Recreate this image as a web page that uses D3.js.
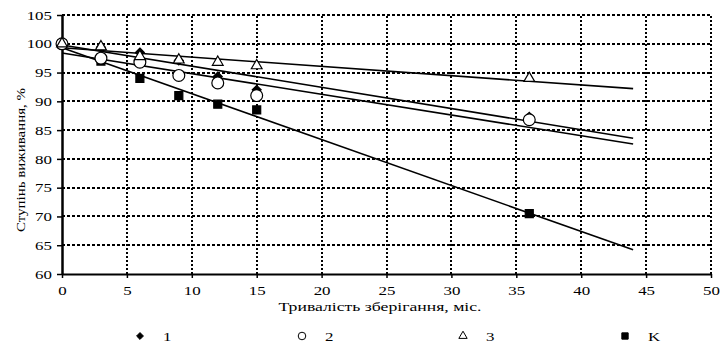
<!DOCTYPE html>
<html><head><meta charset="utf-8">
<script src="https://cdn.jsdelivr.net/npm/d3@7"></script>
<style>
body{margin:0;background:#fff;}
svg{display:block;}
</style></head>
<body><svg id="c" width="723" height="349" font-family="Liberation Serif"></svg>
<script>
const months = [0, 3, 6, 9, 12, 15, 36];
const series1 = [100, 99.4, 98.5, 97.1, 94.3, 92.0, 87.3];
const series2 = [100, 97.5, 96.8, 94.5, 93.2, 91.0, 86.8];
const series3 = [100, 99.5, 97.8, 97.2, 96.8, 96.2, 94.0];
const seriesK = [100, 97.0, 94.0, 91.0, 89.5, 88.5, 70.5];
const trendX = [0, 44];
const trend1 = [99.8, 83.6];
const trend2 = [98.4, 82.6];
const trend3 = [99.3, 92.2];
const trendK = [99.3, 64.2];
const xTicks = [0,5,10,15,20,25,30,35,40,45,50];
const yTicks = [60,65,70,75,80,85,90,95,100,105];
const legendLabels = ["1","2","3","K"];
const xTitle = "Тривалість зберігання, міс.";
const yTitle = "Ступінь виживання, %";
const FONT = "Liberation Serif";
const STRETCH = 1.3;

const svg = d3.select("#c");
const x = d3.scaleLinear().domain([0,50]).range([62,711]);
const y = d3.scaleLinear().domain([60,105]).range([274,15]);

function stretch(sel, k){
  sel.each(function(){
    const w = this.getComputedTextLength();
    d3.select(this).attr("textLength", w*k).attr("lengthAdjust","spacingAndGlyphs");
  });
}

// grid
const g = svg.append("g").attr("shape-rendering","crispEdges");
g.selectAll(".hg").data(yTicks.filter(d=>d>60)).join("line")
  .attr("x1",x(0)).attr("x2",x(50)).attr("y1",d=>Math.round(y(d))).attr("y2",d=>Math.round(y(d)))
  .attr("stroke","#000").attr("stroke-width",2).attr("stroke-dasharray","3,2");
g.selectAll(".vg").data(xTicks.filter(d=>d>0)).join("line")
  .attr("y1",y(60)).attr("y2",y(105)).attr("x1",d=>Math.round(x(d))).attr("x2",d=>Math.round(x(d)))
  .attr("stroke","#000").attr("stroke-width",2).attr("stroke-dasharray","2,2");

// axes
const ax = svg.append("g").attr("transform",`translate(0,${y(60)})`)
  .call(d3.axisBottom(x).tickValues(xTicks).tickSize(4).tickSizeOuter(0).tickPadding(8));
ax.attr("font-family",FONT).attr("font-size",13);
ax.select(".domain").attr("stroke-width",2);
ax.selectAll(".tick line").attr("stroke-width",1.5);
stretch(ax.selectAll("text"), STRETCH);

const ay = svg.append("g").attr("transform",`translate(${x(0)},0)`)
  .call(d3.axisLeft(y).tickValues(yTicks).tickSize(5).tickSizeOuter(0).tickPadding(5));
ay.attr("font-family",FONT).attr("font-size",13);
ay.select(".domain").attr("stroke-width",2.5);
ay.selectAll(".tick line").attr("stroke-width",1.5);
stretch(ay.selectAll("text"), STRETCH);

// titles
svg.append("text").attr("x",380).attr("y",311).attr("text-anchor","middle")
  .attr("font-family",FONT).attr("font-size",13)
  .attr("textLength",203).attr("lengthAdjust","spacingAndGlyphs").text(xTitle);
svg.append("text").attr("transform","translate(25,160) rotate(-90)")
  .attr("text-anchor","middle").attr("font-family",FONT).attr("font-size",13)
  .attr("textLength",144).attr("lengthAdjust","spacingAndGlyphs").text(yTitle);

// trend lines
const trends = [trend1,trend2,trend3,trendK];
svg.selectAll(".tr").data(trends).join("line")
  .attr("x1",x(trendX[0])).attr("x2",x(trendX[1]))
  .attr("y1",d=>y(d[0])).attr("y2",d=>y(d[1]))
  .attr("stroke","#000").attr("stroke-width",1.6);

// markers
const sym = {
  diamond: d3.symbol().type(d3.symbolDiamond2).size(50),
  circle: d3.symbol().type(d3.symbolCircle).size(110),
  triangle: d3.symbol().type(d3.symbolTriangle).size(50),
  square: d3.symbol().type(d3.symbolSquare).size(64)
};
function draw(vals, s, fill, stroke){
  svg.append("g").selectAll("path").data(months.map((m,i)=>[m,vals[i]])).join("path")
    .attr("transform",d=>`translate(${x(d[0])},${y(d[1])})`)
    .attr("d",s).attr("fill",fill).attr("stroke",stroke).attr("stroke-width",1.2);
}
draw(series1, sym.diamond, "#000", "#000");
draw(seriesK, sym.square, "#000", "#000");
draw(series2, sym.circle, "#fff", "#000");
draw(series3, sym.triangle, "#fff", "#000");

// legend
const legX = [140,302,463,625];
const legSyms = [
  {s:d3.symbol().type(d3.symbolDiamond2).size(30), f:"#000"},
  {s:d3.symbol().type(d3.symbolCircle).size(45), f:"#fff"},
  {s:d3.symbol().type(d3.symbolTriangle).size(30), f:"none"},
  {s:d3.symbol().type(d3.symbolSquare).size(40), f:"#000"}
];
const lg = svg.append("g");
legendLabels.forEach((lab,i)=>{
  lg.append("path").attr("transform",`translate(${legX[i]},336)`).attr("d",legSyms[i].s)
    .attr("fill",legSyms[i].f).attr("stroke","#000").attr("stroke-width",1);
  const t = lg.append("text").attr("x",legX[i]+23).attr("y",341)
    .attr("font-family",FONT).attr("font-size",13).text(lab);
  stretch(t, STRETCH);
});
</script></body></html>
